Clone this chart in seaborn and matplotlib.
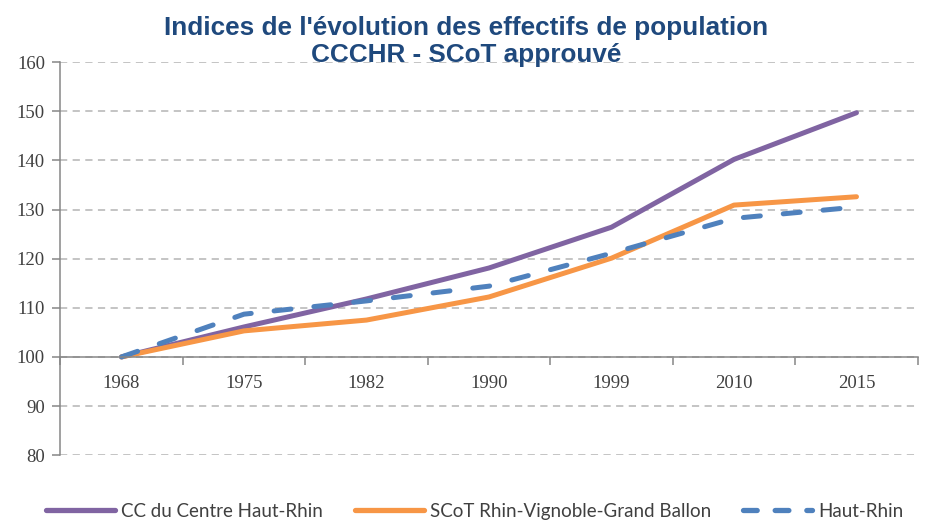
import pandas as pd
import seaborn as sns
import matplotlib.pyplot as plt
from matplotlib.lines import Line2D

years = ['1968', '1975', '1982', '1990', '1999', '2010', '2015']
cccchr = [100, 106.1, 111.8, 118.1, 126.4, 140.2, 149.7]
scot = [100, 105.3, 107.5, 112.2, 120.1, 130.9, 132.6]
haut_rhin = [100, 108.7, 111.4, 114.4, 121.1, 128.2, 130.5]

names = ['CC du Centre Haut-Rhin', 'SCoT Rhin-Vignoble-Grand Ballon', 'Haut-Rhin']
colors = ['#8064A2', '#F79646', '#4F81BD']

df = pd.DataFrame({'pos': list(range(len(years))) * 3,
                   'val': cccchr + scot + haut_rhin,
                   'serie': [n for n in names for _ in years]})

sns.set_style('white')
plt.rcParams['font.family'] = ['DejaVu Sans']

fig = plt.figure(figsize=(9.27, 5.22), dpi=100)
ax = fig.add_axes([0.065, 0.128, 0.925, 0.753])

for n, c in zip(names, colors):
    d = df[df['serie'] == n]
    sns.lineplot(data=d, x='pos', y='val', ax=ax, color=c, lw=3.6)
    if n == 'Haut-Rhin':
        ax.lines[-1].set_dashes([3.4, 4.6])
        ax.lines[-1].set_dash_capstyle('round')

ax.set_xlim(-0.5, len(years) - 0.5)
ax.set_ylim(80, 160)
ax.set_yticks(range(80, 161, 10))
ax.yaxis.grid(True, color='#BFBFBF', ls=(0, (4, 3)), lw=1.3)
ax.set_axisbelow(True)

for s in ['top', 'right']:
    ax.spines[s].set_visible(False)
for s in ['left', 'bottom']:
    ax.spines[s].set_color('#868686')
    ax.spines[s].set_linewidth(1.1)
ax.spines['bottom'].set_position(('data', 100))

ax.set_xticks([i - 0.5 for i in range(len(years) + 1)])
ax.set_xticklabels([])
ax.set_xticks(range(len(years)), minor=True)
ax.set_xticklabels(years, minor=True, fontfamily='Liberation Serif', fontsize=13.5, color='#404040')
ax.tick_params(axis='x', which='major', direction='out', length=6, width=1.1, color='#868686', bottom=True)
ax.tick_params(axis='x', which='minor', length=0, pad=13)
ax.tick_params(axis='y', direction='out', length=6, width=1.1, color='#868686', left=True,
               labelsize=13.5, labelcolor='#404040', pad=5)
for t in ax.get_yticklabels():
    t.set_fontfamily('Liberation Serif')
ax.set_xlabel('')
ax.set_ylabel('')

fig.text(0.503, 0.92, "Indices de l'évolution des effectifs de population\nCCCHR - SCoT approuvé",
         ha='center', va='center', fontsize=18.8, fontweight='bold', color='#1F497D',
         family='Liberation Sans', linespacing=1.15)

handles = [Line2D([], [], color=colors[0], lw=3.8),
           Line2D([], [], color=colors[1], lw=3.8),
           Line2D([], [], color=colors[2], lw=3.8, dashes=[2.6, 3.4], dash_capstyle='round')]
fig.legend(handles, names, loc='center', bbox_to_anchor=(0.512, 0.02), ncol=3, frameon=False,
           prop={'family': 'Lato', 'size': 13.5}, handlelength=3.7, columnspacing=1.7,
           handletextpad=0.3, labelcolor='#404040')

fig.savefig('out.png', dpi=100)
